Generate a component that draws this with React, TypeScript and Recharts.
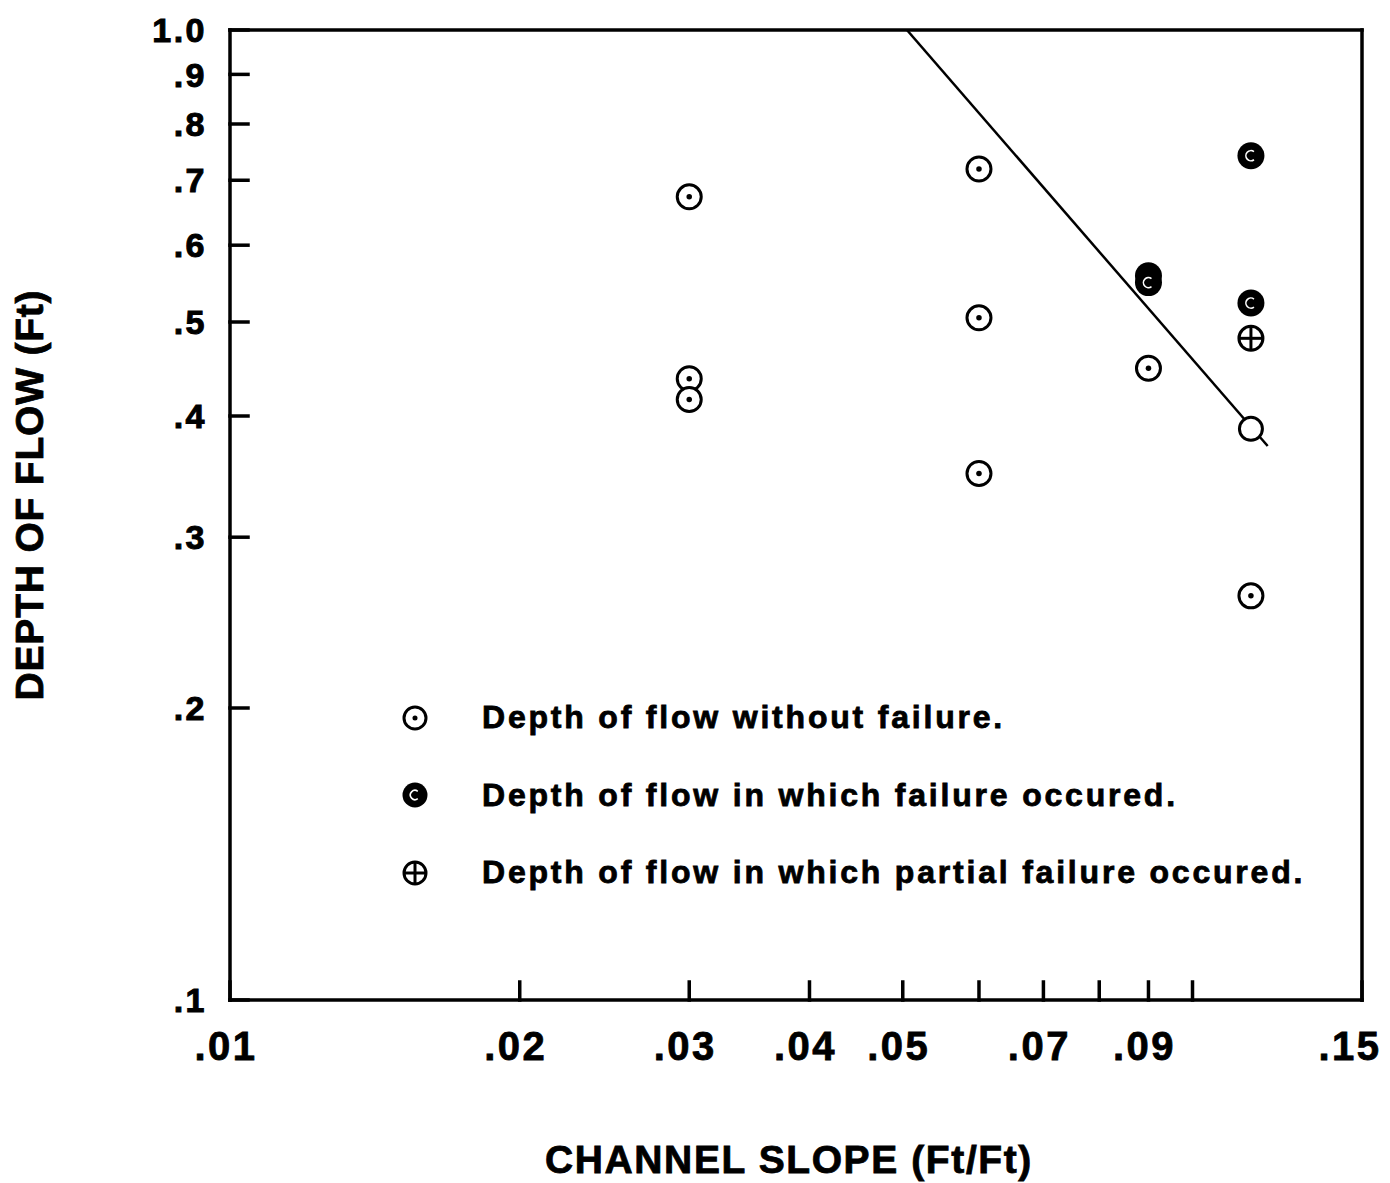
import { ScatterChart, Scatter, XAxis, YAxis, Legend } from 'recharts'

// axis ticks
const X_TICKS = [0.01, 0.02, 0.03, 0.04, 0.05, 0.06, 0.07, 0.08, 0.09, 0.1, 0.15]
const X_LABELS = ['.01', '.02', '.03', '.04', '.05', '', '.07', '', '.09', '', '.15']
const X_TOP_TICKS = [0.02, 0.03, 0.04, 0.05, 0.06, 0.07, 0.08, 0.09, 0.1]
const Y_TICKS = [0.1, 0.2, 0.3, 0.4, 0.5, 0.6, 0.7, 0.8, 0.9, 1.0]
const Y_LABELS = ['.1', '.2', '.3', '.4', '.5', '.6', '.7', '.8', '.9', '1.0']
const Y_RIGHT_TICKS = [0.2, 0.3, 0.4, 0.5, 0.6, 0.7, 0.8, 0.9]

// depth of flow without failure
const noFailSlope = [0.03, 0.03, 0.03, 0.06, 0.06, 0.06, 0.09, 0.115]
const noFailDepth = [0.673, 0.437, 0.416, 0.719, 0.505, 0.349, 0.448, 0.261]

// failure occured
const failSlope = [0.09, 0.09, 0.115, 0.115]
const failDepth = [0.558, 0.549, 0.742, 0.523]

// partial failure
const partialSlope = [0.115]
const partialDepth = [0.481]

// dividing line and its end marker
const lineSlope = [0.0505, 0.1197]
const lineDepth = [1.0, 0.3725]
const endSlope = [0.115]
const endDepth = [0.388]

const zip = (xs: number[], ys: number[]) => xs.map((x, i) => ({ slope: x, depth: ys[i] }))

const noFailData = zip(noFailSlope, noFailDepth)
const failData = zip(failSlope, failDepth)
const partialData = zip(partialSlope, partialDepth)
const lineData = zip(lineSlope, lineDepth)
const endData = zip(endSlope, endDepth)

const LEGEND = [
  { kind: 'noFail', text: 'Depth of flow without failure.' },
  { kind: 'fail', text: 'Depth of flow in which failure occured.' },
  { kind: 'partial', text: 'Depth of flow in which partial failure occured.' },
]

const FONT = '"Liberation Sans", Arial, Helvetica, sans-serif'

const Marker = ({ kind, cx, cy, r = 12 }: { kind: string; cx: number; cy: number; r?: number }) => {
  if (kind === 'noFail') {
    return (
      <g>
        <circle cx={cx} cy={cy} r={r} fill="#fff" stroke="#000" strokeWidth={3} />
        <circle cx={cx} cy={cy} r={r * 0.23} fill="#000" />
      </g>
    )
  }
  if (kind === 'fail') {
    const a = r * 0.42
    return (
      <g>
        <circle cx={cx} cy={cy} r={r + 1.5} fill="#000" />
        <path
          d={`M ${cx + a * 0.6} ${cy - a * 0.8} A ${a} ${a} 0 1 0 ${cx + a * 0.6} ${cy + a * 0.8}`}
          fill="none"
          stroke="#fff"
          strokeWidth={1.6}
        />
      </g>
    )
  }
  if (kind === 'partial') {
    return (
      <g>
        <circle cx={cx} cy={cy} r={r} fill="#fff" stroke="#000" strokeWidth={3} />
        <line x1={cx - r} y1={cy} x2={cx + r} y2={cy} stroke="#000" strokeWidth={3} />
        <line x1={cx} y1={cy - r} x2={cx} y2={cy + r} stroke="#000" strokeWidth={3} />
      </g>
    )
  }
  return <circle cx={cx} cy={cy} r={r} fill="#fff" stroke="#000" strokeWidth={3} />
}

const XTick = (p: any) => {
  const label = X_LABELS[X_TICKS.indexOf(p.payload.value)] || ''
  const shift = p.payload.value === 0.15 ? -12 : -4
  return (
    <text x={p.x + shift} y={p.y} dy="0.71em" textAnchor="middle" fontFamily={FONT} fontWeight={700}
      fontSize={40} fill="#000" stroke="#000" strokeWidth={0.8} style={{ letterSpacing: '2.5px' }}>
      {label}
    </text>
  )
}

const YTick = (p: any) => {
  const label = Y_LABELS[Y_TICKS.indexOf(p.payload.value)] || ''
  return (
    <text x={p.x} y={p.y} dy="0.36em" textAnchor="end" fontFamily={FONT} fontWeight={700}
      fontSize={34} fill="#000" stroke="#000" strokeWidth={1} style={{ letterSpacing: '2.5px' }}>
      {label}
    </text>
  )
}

const renderLegend = () => (
  <div style={{ fontFamily: FONT }}>
    {LEGEND.map((item) => (
      <div key={item.kind} style={{ display: 'flex', alignItems: 'center', height: 77.5 }}>
        <svg width={40} height={40}>
          <Marker kind={item.kind} cx={20} cy={20} r={11} />
        </svg>
        <span style={{ marginLeft: 47, fontSize: 32, fontWeight: 700, letterSpacing: '2.8px', WebkitTextStroke: '0.8px #000', color: '#000' }}>
          {item.text}
        </span>
      </div>
    ))}
  </div>
)

const axisStroke = { stroke: '#000', strokeWidth: 3.5, strokeLinecap: 'square' as const }

export default function App() {
  return (
    <div style={{ position: 'absolute', left: 0, top: 0, width: 1390, height: 1183, background: '#fff' }}>
      <ScatterChart width={1390} height={1183} margin={{ top: 0, right: 0, bottom: 0, left: 150 }}>
        <XAxis
          xAxisId="x"
          dataKey="slope"
          type="number"
          scale="log"
          domain={[0.01, 0.15]}
          allowDataOverflow
          ticks={X_TICKS}
          interval={0}
          height={183}
          tickSize={-18}
          tickMargin={50}
          axisLine={axisStroke}
          tickLine={axisStroke}
          tick={<XTick />}
          label={{
            content: () => (
              <text x={789} y={1173} textAnchor="middle" fontFamily={FONT} fontWeight={700} fontSize={39}
                fill="#000" stroke="#000" strokeWidth={0.8} style={{ letterSpacing: '1.6px' }}>
                CHANNEL SLOPE (Ft/Ft)
              </text>
            ),
          }}
        />
        <XAxis
          xAxisId="top"
          orientation="top"
          type="number"
          scale="log"
          domain={[0.01, 0.15]}
          allowDataOverflow
          ticks={X_TOP_TICKS}
          interval={0}
          height={30}
          tickSize={-18}
          axisLine={axisStroke}
          tickLine={axisStroke}
          tick={false}
        />
        <YAxis
          yAxisId="y"
          dataKey="depth"
          type="number"
          scale="log"
          domain={[0.1, 1.0]}
          allowDataOverflow
          ticks={Y_TICKS}
          interval={0}
          width={80}
          tickSize={-18}
          tickMargin={41}
          axisLine={axisStroke}
          tickLine={axisStroke}
          tick={<YTick />}
          label={{
            content: () => (
              <text x={43} y={495} transform="rotate(-90 43 495)" textAnchor="middle" fontFamily={FONT}
                fontWeight={700} fontSize={39} fill="#000" stroke="#000" strokeWidth={0.8}
                style={{ letterSpacing: '0.8px' }}>
                DEPTH OF FLOW (Ft)
              </text>
            ),
          }}
        />
        <YAxis
          yAxisId="right"
          orientation="right"
          type="number"
          scale="log"
          domain={[0.1, 1.0]}
          allowDataOverflow
          ticks={Y_RIGHT_TICKS}
          interval={0}
          width={28}
          tickSize={-18}
          axisLine={axisStroke}
          tickLine={axisStroke}
          tick={false}
        />
        <Legend
          layout="vertical"
          align="center"
          verticalAlign="middle"
          content={renderLegend}
          wrapperStyle={{ left: 395, top: 679, width: 980 }}
        />
        <Scatter
          name="line"
          data={lineData}
          xAxisId="x"
          yAxisId="y"
          line={{ stroke: '#000', strokeWidth: 2.5 }}
          shape={() => <g />}
          legendType="none"
          isAnimationActive={false}
        />
        <Scatter
          name="end"
          data={endData}
          xAxisId="x"
          yAxisId="y"
          shape={(p: any) => <Marker kind="open" cx={p.cx} cy={p.cy} r={11.5} />}
          legendType="none"
          isAnimationActive={false}
        />
        <Scatter
          name="Depth of flow without failure."
          data={noFailData}
          xAxisId="x"
          yAxisId="y"
          shape={(p: any) => <Marker kind="noFail" cx={p.cx} cy={p.cy} />}
          isAnimationActive={false}
        />
        <Scatter
          name="Depth of flow in which failure occured."
          data={failData}
          xAxisId="x"
          yAxisId="y"
          shape={(p: any) => <Marker kind="fail" cx={p.cx} cy={p.cy} />}
          isAnimationActive={false}
        />
        <Scatter
          name="Depth of flow in which partial failure occured."
          data={partialData}
          xAxisId="x"
          yAxisId="y"
          shape={(p: any) => <Marker kind="partial" cx={p.cx} cy={p.cy} />}
          isAnimationActive={false}
        />
      </ScatterChart>
    </div>
  )
}
